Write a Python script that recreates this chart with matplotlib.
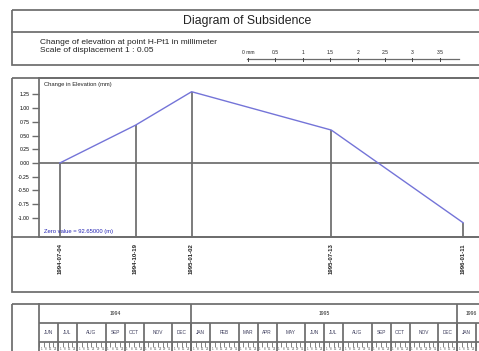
import calendar
import matplotlib.pyplot as plt
from matplotlib.patches import Rectangle

plt.rcParams['font.family'] = ['Liberation Sans', 'DejaVu Sans']

# --- data ---
dates = ['1994-07-04', '1994-10-19', '1995-01-02', '1995-07-13', '1996-01-11']
values = [0.00, 0.69, 1.30, 0.60, -1.09]   # change in elevation (mm)

y_ticks = [1.25, 1.00, 0.75, 0.50, 0.25, 0.00, -0.25, -0.50, -0.75, -1.00]

# calendar band: month names, years and relative cell widths
months = ['JUN', 'JUL', 'AUG', 'SEP', 'OCT', 'NOV', 'DEC',
          'JAN', 'FEB', 'MAR', 'APR', 'MAY', 'JUN', 'JUL', 'AUG', 'SEP', 'OCT', 'NOV', 'DEC',
          'JAN', 'FEB']
month_years = [1994] * 7 + [1995] * 12 + [1996] * 2
month_units = [2, 2, 3, 2, 2, 3, 2,
               2, 3, 2, 2, 3, 2, 2, 3, 2, 2, 3, 2,
               2, 3]

scale_labels = ['0 mm', '0.5', '1', '1.5', '2', '2.5', '3', '3.5']
scale_values = [0, 0.5, 1, 1.5, 2, 2.5, 3, 3.5]

zero_value = 'Zero value = 92.65000 (m)'

# --- layout (pixels of a 479x351 picture) ---
W, H = 479, 351
GRAY = '#6c6c6c'
LW = 1.25
X_LEFT, X_AXIS, X_RIGHT = 12, 39, 495
PX_PER_UNIT = 9.5
X_UNITS = (X_RIGHT - X_AXIS) / PX_PER_UNIT
X_VISIBLE = (W - X_AXIS) / PX_PER_UNIT
Y_MIN, Y_MAX = -1.35, 1.55
PLOT_TOP, PLOT_BOT = 78, 237


def fig_rect(x0, y0, x1, y1):
    return [x0 / W, 1 - y1 / H, (x1 - x0) / W, (y1 - y0) / H]


# month start positions on the calendar scale
month_start = []
pos = 0
for u in month_units:
    month_start.append(pos)
    pos += u


def date_to_x(s):
    y, m, d = [int(p) for p in s.split('-')]
    for i, name in enumerate(months):
        if month_years[i] == y and list(calendar.month_abbr).index(name.title()) == m:
            ndays = calendar.monthrange(y, m)[1]
            return month_start[i] + (d - 1) / ndays * month_units[i]
    return None


xs = [date_to_x(d) for d in dates]

fig = plt.figure(figsize=(W / 100, H / 100), dpi=100)

# --- main chart ---
ax = fig.add_axes(fig_rect(X_AXIS, PLOT_TOP, X_RIGHT, PLOT_BOT))
ax.set_xlim(0, X_UNITS)
ax.set_ylim(Y_MIN, Y_MAX)
ax.axhline(0, color=GRAY, lw=LW, zorder=1)
ax.vlines(xs, Y_MIN, values, color=GRAY, lw=LW, zorder=1)
ax.plot(xs, values, color='#7474d8', lw=1.0, zorder=2)
for sp in ['left', 'top', 'bottom']:
    ax.spines[sp].set_color(GRAY)
    ax.spines[sp].set_linewidth(LW)
ax.spines['right'].set_visible(False)
ax.set_xticks([])
ax.set_yticks(y_ticks)
ax.set_yticklabels([f'{v:.2f}' for v in y_ticks])
ax.tick_params(axis='y', direction='out', length=5, width=1, color=GRAY,
               labelsize=3.7, pad=2)
ax.text(0.01, 0.975, 'Change in Elevation (mm)', transform=ax.transAxes,
        fontsize=4.2, va='top', ha='left', color='#222222')
ax.text(0.01, 0.02, zero_value, transform=ax.transAxes,
        fontsize=4.2, va='bottom', ha='left', color='#2828b4')

# date labels under the chart
for x, d in zip(xs, dates):
    ax.text(x, -0.04, d, transform=ax.get_xaxis_transform(), rotation=90,
            ha='center', va='top', fontsize=4.3, fontweight='bold',
            color='#222222', clip_on=False)

# --- calendar table ---
tab = fig.add_axes(fig_rect(X_AXIS, 304, X_RIGHT, 361))
tab.set_xlim(0, X_UNITS)
tab.set_ylim(3, 0)
tab.axis('off')
tab.hlines([1, 2], 0, X_UNITS, color=GRAY, lw=LW)
years = sorted(set(month_years))
for yr in years:
    idx = [i for i, v in enumerate(month_years) if v == yr]
    s = month_start[idx[0]]
    e = month_start[idx[-1]] + month_units[idx[-1]]
    if s > 0:
        tab.vlines(s, 0, 3, color=GRAY, lw=LW)
    tab.text((s + min(e, X_VISIBLE + 0.6)) / 2, 0.5, str(yr), ha='center',
             va='center', fontsize=3.6, color='#222222')
for i, name in enumerate(months):
    s = month_start[i]
    if s > 0:
        tab.vlines(s, 1, 3, color=GRAY, lw=LW)
    if s + month_units[i] / 2 < X_VISIBLE:
        tab.text(s + month_units[i] / 2, 1.5, name, ha='center', va='center',
                 fontsize=3.4, color='#3a3a5a')
    for k in range(month_units[i] * 2):
        h = s + k * 0.5
        tab.vlines(h, 2, 2.25, color=GRAY, lw=0.6)
        if h + 0.5 < X_VISIBLE:
            tab.text(h + 0.25, 2.38, str(k * 7 + 1), ha='center', va='center',
                     fontsize=2.2, color='#555555')

# --- frames, title and scale bar ---
fr = fig.add_axes([0, 0, 1, 1], zorder=5)
fr.set_xlim(0, W)
fr.set_ylim(H, 0)
fr.axis('off')
fr.patch.set_alpha(0)

box = dict(fill=False, edgecolor=GRAY, lw=LW)
fr.add_patch(Rectangle((X_LEFT, 10), X_RIGHT - X_LEFT, 55, **box))
fr.plot([X_LEFT, X_RIGHT], [32, 32], color=GRAY, lw=LW)
fr.add_patch(Rectangle((X_LEFT, PLOT_TOP), X_RIGHT - X_LEFT, 292 - PLOT_TOP, **box))
fr.plot([X_LEFT, X_RIGHT], [PLOT_BOT, PLOT_BOT], color=GRAY, lw=LW)
fr.add_patch(Rectangle((X_LEFT, 304), X_RIGHT - X_LEFT, 70, **box))
fr.plot([X_AXIS, X_AXIS], [304, H], color=GRAY, lw=LW)

fr.text(247, 21, 'Diagram of Subsidence', ha='center', va='center',
        fontsize=8.8, color='#222222')
fr.text(40, 43, 'Change of elevation at point H-Pt1 in millimeter',
        ha='left', va='center', fontsize=6, color='#222222')
fr.text(40, 51, 'Scale of displacement 1 : 0.05',
        ha='left', va='center', fontsize=6, color='#222222')

px_per_mm = (PLOT_BOT - PLOT_TOP) / (Y_MAX - Y_MIN)
sx0 = 248
fr.plot([sx0 - 1, sx0 + 3.85 * px_per_mm], [59, 59], color=GRAY, lw=0.9)
for v, lab in zip(scale_values, scale_labels):
    px = sx0 + v * px_per_mm
    fr.plot([px, px], [58, 60.5], color='#444444', lw=0.7)
    fr.text(px, 52.5, lab, ha='center', va='center', fontsize=3.6, color='#222222')

fig.savefig('out.png', dpi=100)
